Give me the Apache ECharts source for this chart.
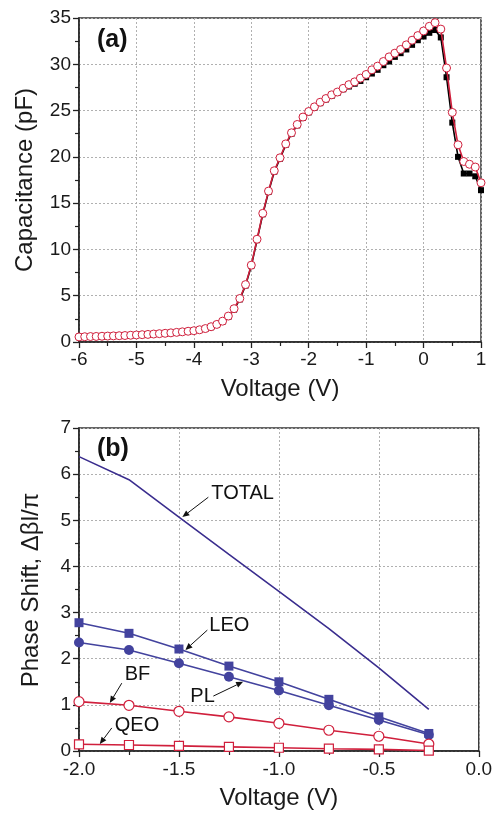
<!DOCTYPE html>
<html><head><meta charset="utf-8">
<script src="https://cdn.jsdelivr.net/npm/echarts@6/dist/echarts.min.js"></script>
<style>html,body{margin:0;padding:0;background:#fff}#c{width:495px;height:814px}</style>
</head><body><div id="c"></div>
<script>
// ---------- Panel (a) data ----------
const voltageA = [];
for (let i = 0; i <= 70; i++) voltageA.push(+(-6 + i * 0.1).toFixed(1));
const capCircles = [
 0.55,0.57,0.59,0.60,0.62,0.64,0.66,0.68,0.70,0.73,
 0.76,0.79,0.82,0.86,0.90,0.94,0.99,1.04,1.10,1.16,
 1.22,1.32,1.45,1.65,1.90,2.25,2.80,3.60,4.70,6.20,
 8.30,11.1,13.9,16.3,18.5,19.9,21.4,22.6,23.5,24.3,
 24.9,25.4,25.9,26.3,26.7,27.0,27.4,27.8,28.1,28.5,
 28.9,29.4,29.8,30.3,30.8,31.2,31.6,32.1,32.6,33.1,
 33.6,34.1,34.5,33.8,29.6,24.8,21.3,19.5,19.2,18.9,17.2];
const capSquares = [
 0.55,0.57,0.59,0.60,0.62,0.64,0.66,0.68,0.70,0.73,
 0.76,0.79,0.82,0.86,0.90,0.94,0.99,1.04,1.10,1.16,
 1.22,1.30,1.42,1.60,1.85,2.20,2.70,3.50,4.60,6.10,
 8.20,11.0,13.8,16.2,18.4,19.8,21.3,22.5,23.4,24.2,
 24.8,25.3,25.8,26.2,26.6,26.9,27.3,27.6,27.9,28.2,
 28.6,29.0,29.4,29.9,30.3,30.8,31.2,31.6,32.1,32.6,
 33.0,33.4,33.7,32.9,28.6,23.7,20.0,18.2,18.2,17.9,16.4];

// ---------- Panel (b) data ----------
const voltageB = [-2.0,-1.75,-1.5,-1.25,-1.0,-0.75,-0.5,-0.25];
const totalShift = [6.38,5.88,5.07,4.26,3.46,2.65,1.80,0.90];
const leoShift   = [2.78,2.55,2.21,1.84,1.50,1.12,0.74,0.38];
const plShift    = [2.35,2.19,1.90,1.61,1.31,0.99,0.67,0.35];
const bfShift    = [1.07,0.99,0.86,0.74,0.60,0.45,0.32,0.15];
const qeoShift   = [0.145,0.13,0.11,0.09,0.07,0.05,0.035,0.01];

// annotations: [label, textX, textY, arrowFromX, arrowFromY, arrowToX, arrowToY] in data coords
const notesB = [
 ['TOTAL', -1.338, 5.59, -1.353, 5.50, -1.483, 5.07],
 ['LEO',   -1.348, 2.71, -1.358, 2.62, -1.468, 2.19],
 ['PL',    -1.443, 1.19, -1.328, 1.19, -1.179, 1.50],
 ['BF',    -1.771, 1.65, -1.786, 1.47, -1.846, 1.04],
 ['QEO',   -1.821, 0.56, -1.836, 0.50, -1.896, 0.15]
];

const zip = (xs, ys) => xs.map((x, i) => [x, ys[i]]);
const FONT = '"Liberation Sans", Arial, sans-serif';
const RED = '#d01f3c', BLUE = '#43439e', PURPLE = '#3a2d8e';

function axisCommon() {
  return {
    axisLine: {show: true, onZero: false, lineStyle: {color: '#222', width: 1.5}},
    axisTick: {show: true, inside: false, length: 6, lineStyle: {color: '#222', width: 1.3}},
    minorTick: {show: true, splitNumber: 2, length: 4, lineStyle: {color: '#222', width: 1.2}},
    axisLabel: {color: '#1a1a1a', fontSize: 19, fontFamily: FONT, margin: 8},
    splitLine: {show: true, lineStyle: {color: '#b0b0b0', type: [2, 2], width: 1}},
    nameTextStyle: {color: '#1a1a1a', fontSize: 24, fontFamily: FONT},
    nameLocation: 'middle'
  };
}

const chart = echarts.init(document.getElementById('c'), null, {renderer: 'canvas'});
const option = {
  animation: false,
  backgroundColor: '#fff',
  grid: [
    {left: 79, right: 14, top: 18, height: 324, show: true, borderColor: '#333', borderWidth: 1.5, backgroundColor: 'transparent'},
    {left: 79, right: 14, top: 428, height: 323, show: true, borderColor: '#333', borderWidth: 1.5, backgroundColor: 'transparent'}
  ],
  xAxis: [
    Object.assign(axisCommon(), {gridIndex: 0, type: 'value', min: -6, max: 1, interval: 1, name: 'Voltage (V)', nameGap: 35}),
    Object.assign(axisCommon(), {gridIndex: 1, type: 'value', min: -2, max: 0, interval: 0.5, name: 'Voltage (V)', nameGap: 35,
      axisLabel: {color: '#1a1a1a', fontSize: 19, fontFamily: FONT, margin: 9, formatter: v => v.toFixed(1)}})
  ],
  yAxis: [
    Object.assign(axisCommon(), {gridIndex: 0, type: 'value', min: 0, max: 35, interval: 5, name: 'Capacitance (pF)', nameGap: 42}),
    Object.assign(axisCommon(), {gridIndex: 1, type: 'value', min: 0, max: 7, interval: 1, name: ''})
  ],
  series: [
    {type: 'line', xAxisIndex: 0, yAxisIndex: 0, data: zip(voltageA, capSquares), symbol: 'rect', symbolSize: 6,
     lineStyle: {color: '#000', width: 1.6}, itemStyle: {color: '#000'}, z: 2},
    {type: 'line', xAxisIndex: 0, yAxisIndex: 0, data: zip(voltageA, capCircles), symbol: 'circle', symbolSize: 8,
     lineStyle: {color: RED, width: 1.6}, itemStyle: {color: '#fff', borderColor: RED, borderWidth: 1}, z: 3},
    {type: 'line', xAxisIndex: 1, yAxisIndex: 1, data: zip(voltageB, totalShift), symbol: 'none',
     lineStyle: {color: PURPLE, width: 1.6}, z: 3},
    {type: 'line', xAxisIndex: 1, yAxisIndex: 1, data: zip(voltageB, leoShift), symbol: 'rect', symbolSize: 9,
     lineStyle: {color: BLUE, width: 1.6}, itemStyle: {color: BLUE}, z: 3},
    {type: 'line', xAxisIndex: 1, yAxisIndex: 1, data: zip(voltageB, plShift), symbol: 'circle', symbolSize: 10,
     lineStyle: {color: BLUE, width: 1.6}, itemStyle: {color: BLUE}, z: 3},
    {type: 'line', xAxisIndex: 1, yAxisIndex: 1, data: zip(voltageB, bfShift), symbol: 'circle', symbolSize: 10,
     lineStyle: {color: RED, width: 1.6}, itemStyle: {color: '#fff', borderColor: RED, borderWidth: 1.2}, z: 3},
    {type: 'line', xAxisIndex: 1, yAxisIndex: 1, data: zip(voltageB, qeoShift), symbol: 'rect', symbolSize: 9,
     lineStyle: {color: RED, width: 1.6}, itemStyle: {color: '#fff', borderColor: RED, borderWidth: 1.2}, z: 3}
  ]
};
chart.setOption(option);

// annotations
const g = [];
const toPx = (x, y) => chart.convertToPixel({gridIndex: 1}, [x, y]);
notesB.forEach(n => {
  const t = toPx(n[1], n[2]);
  g.push({type: 'text', x: t[0], y: t[1], z: 10,
    style: {text: n[0], fill: '#111', font: '20px ' + FONT, verticalAlign: 'middle'}});
  const a = toPx(n[3], n[4]), b = toPx(n[5], n[6]);
  const dx = b[0] - a[0], dy = b[1] - a[1], L = Math.hypot(dx, dy), ux = dx / L, uy = dy / L;
  const hl = 7, hw = 3;
  const bx = b[0] - ux * hl, by = b[1] - uy * hl;
  g.push({type: 'line', z: 10, shape: {x1: a[0], y1: a[1], x2: bx, y2: by}, style: {stroke: '#111', lineWidth: 1}});
  g.push({type: 'polygon', z: 10, shape: {points: [[b[0], b[1]], [bx - uy * hw, by + ux * hw], [bx + uy * hw, by - ux * hw]]}, style: {fill: '#111'}});
});
g.push({type: 'text', left: 97, top: 28, z: 10, style: {text: '(a)', fill: '#111', font: 'bold 25px ' + FONT}});
g.push({type: 'text', left: 97, top: 437, z: 10, style: {text: '(b)', fill: '#111', font: 'bold 25px ' + FONT}});
// y-axis title of panel (b)
g.push({type: 'text', x: 31, y: 590, rotation: Math.PI / 2, z: 10,
  style: {text: 'Phase Shift, Δβl/π', fill: '#1a1a1a', font: '24px ' + FONT, align: 'center', verticalAlign: 'middle'}});
chart.setOption({graphic: g});
</script></body></html>
